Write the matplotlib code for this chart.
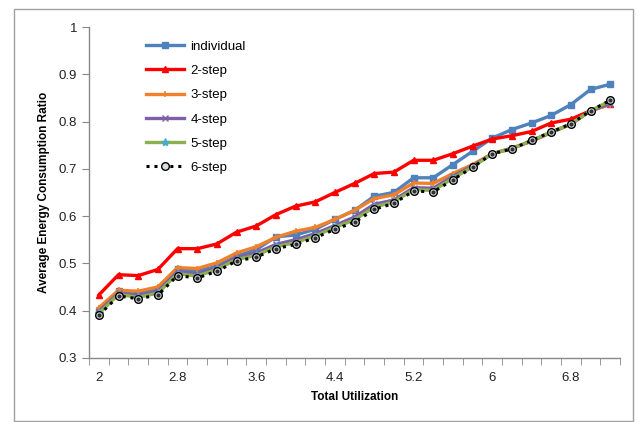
import matplotlib
matplotlib.use("Agg")
import matplotlib.pyplot as plt
import numpy as np
from matplotlib.patches import Rectangle
from matplotlib.ticker import FixedLocator, NullFormatter

plt.rcParams['font.family'] = ['Liberation Sans', 'DejaVu Sans']

# Total utilization, 2.0 .. 7.2 in steps of 0.2
utilization = [2.0, 2.2, 2.4, 2.6, 2.8, 3.0, 3.2, 3.4, 3.6, 3.8, 4.0, 4.2, 4.4,
               4.6, 4.8, 5.0, 5.2, 5.4, 5.6, 5.8, 6.0, 6.2, 6.4, 6.6, 6.8, 7.0, 7.2]
tick_labels = ['2', '2.8', '3.6', '4.4', '5.2', '6', '6.8']

individual = [0.400, 0.442, 0.436, 0.445, 0.487, 0.483, 0.494, 0.515, 0.529, 0.556,
              0.560, 0.572, 0.593, 0.612, 0.642, 0.650, 0.681, 0.681, 0.709, 0.737,
              0.765, 0.783, 0.797, 0.813, 0.836, 0.868, 0.879]
step2 = [0.433, 0.476, 0.474, 0.487, 0.531, 0.531, 0.541, 0.566, 0.579, 0.603,
         0.621, 0.630, 0.650, 0.669, 0.690, 0.693, 0.718, 0.718, 0.732, 0.748,
         0.763, 0.770, 0.779, 0.797, 0.805, 0.823, 0.837]
step3 = [0.406, 0.443, 0.441, 0.450, 0.491, 0.489, 0.501, 0.522, 0.535, 0.555,
         0.568, 0.576, 0.593, 0.612, 0.637, 0.645, 0.670, 0.669, 0.690, 0.709,
         0.732, 0.744, 0.758, 0.777, 0.794, 0.823, 0.836]
step4 = [0.398, 0.437, 0.432, 0.441, 0.482, 0.478, 0.490, 0.512, 0.522, 0.540,
         0.550, 0.563, 0.580, 0.598, 0.625, 0.634, 0.660, 0.659, 0.684, 0.706,
         0.732, 0.743, 0.759, 0.777, 0.795, 0.823, 0.838]
step5 = [0.394, 0.434, 0.428, 0.437, 0.478, 0.473, 0.487, 0.508, 0.517, 0.535,
         0.544, 0.558, 0.576, 0.592, 0.619, 0.630, 0.656, 0.654, 0.680, 0.704,
         0.732, 0.742, 0.760, 0.778, 0.795, 0.823, 0.844]
step6 = [0.390, 0.431, 0.425, 0.433, 0.474, 0.469, 0.483, 0.505, 0.513, 0.531,
         0.540, 0.554, 0.572, 0.587, 0.614, 0.627, 0.653, 0.651, 0.677, 0.703,
         0.732, 0.742, 0.760, 0.778, 0.795, 0.823, 0.845]

fig = plt.figure(figsize=(6.38, 4.22), dpi=100)
ax = fig.add_axes([0.1395, 0.152, 0.8325, 0.784])

# outer chart border
fig.patches.append(Rectangle((14 / 638, 1 / 422), 619 / 638, 412 / 422,
                             transform=fig.transFigure, fill=False,
                             edgecolor='#a0a0a0', linewidth=1.0))

x = np.arange(len(utilization))

ax.plot(x, individual, color='#4F81BD', lw=2.4, marker='s', ms=5, label='individual')
ax.plot(x, step2, color='#FF0000', lw=2.4, marker='^', ms=5, label='2-step')
ax.plot(x, step3, color='#F0802A', lw=2.4, marker='+', ms=5, mew=1.2, label='3-step')
ax.plot(x, step4, color='#7F60A8', lw=2.4, marker='x', ms=5, mew=1.0, label='4-step')
ax.plot(x, step5, color='#8DB04F', lw=2.4, marker='*', ms=6, mfc='#4BACC6', mec='#4BACC6',
        label='5-step')
ax.plot(x, step6, color='black', lw=2.2, ls=(0, (1, 1.6)), marker='o', ms=5.5,
        mfc='#d8e0e0', mec='black', mew=1.0, label='6-step')
ax.plot(x, step6, ls='none', marker='o', ms=2, color='#303030')

ax.set_xlim(-0.5, len(utilization) - 0.5)
ax.set_ylim(0.3, 1.0)
ax.set_yticks(np.arange(0.3, 1.01, 0.1))
ax.set_yticklabels(['0.3', '0.4', '0.5', '0.6', '0.7', '0.8', '0.9', '1'])

# category boundaries carry the tick marks, every 4th category carries a label
ax.xaxis.set_major_locator(FixedLocator(x[::4]))
ax.set_xticklabels(tick_labels)
ax.xaxis.set_minor_locator(FixedLocator(np.arange(-0.5, len(utilization), 1)))
ax.xaxis.set_minor_formatter(NullFormatter())
ax.tick_params(axis='x', which='major', length=0, pad=10, labelsize=9.5, colors='#222222')
ax.tick_params(axis='x', which='minor', length=5, color='#888888', direction='out')
ax.tick_params(axis='y', length=5, color='#888888', labelsize=9.5, labelcolor='#222222')

for side in ['top', 'right']:
    ax.spines[side].set_visible(False)
for side in ['left', 'bottom']:
    ax.spines[side].set_color('#888888')
    ax.spines[side].set_linewidth(1.0)

ax.set_xlabel('Total Utilization', fontsize=8.5, fontweight='bold', labelpad=5)
ax.set_ylabel('Average Energy Consumption Ratio', fontsize=8.5, fontweight='bold', labelpad=6)

ax.legend(loc='upper left', bbox_to_anchor=(0.085, 0.995), frameon=False, fontsize=9.5,
          handlelength=2.9, labelspacing=0.91, handletextpad=0.45)

fig.savefig('out.png', dpi=100)
